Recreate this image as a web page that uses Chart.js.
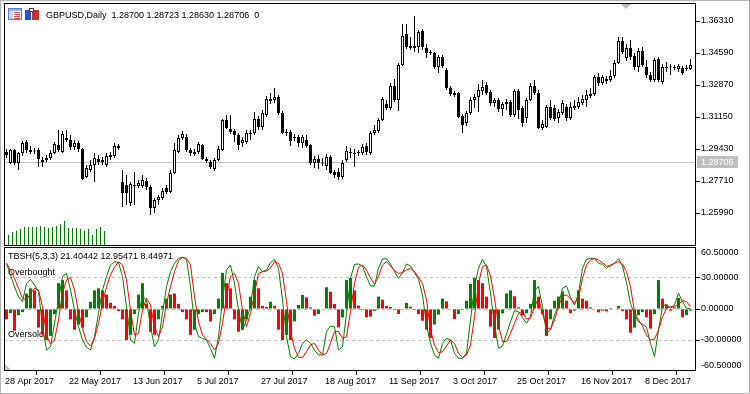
<!DOCTYPE html>
<html>
<head>
<meta charset="utf-8">
<script src="https://cdn.jsdelivr.net/npm/chart.js@4.4.1/dist/chart.umd.min.js"></script>
<style>
  html, body { margin: 0; padding: 0; background: #fff; }
  #wrap { position: relative; width: 750px; height: 394px; overflow: hidden; background: #fff; }
  #wrap canvas { position: absolute; left: 0; }
  #priceCanvas { top: 0; }
  #oscCanvas { top: 246px; }
  #edge { position: absolute; left: 0; top: 0; width: 750px; height: 394px; box-sizing: border-box;
          border: 1px solid #b4b4b4; pointer-events: none; }
</style>
</head>
<body>
<div id="wrap">
  <canvas id="priceCanvas" width="750" height="247"></canvas>
  <canvas id="oscCanvas" width="750" height="148"></canvas>
  <div id="edge"></div>
</div>
<script>
// GBPUSD daily bars, one entry per bar starting 28 Apr 2017
const opens = [
  1.2927, 1.2868, 1.2938, 1.2868, 1.2922, 1.2981, 1.2938, 1.2933, 1.2938, 1.2884,
  1.2884, 1.2895, 1.2922, 1.2965, 1.2927, 1.2991, 1.2991, 1.2954, 1.2975, 1.2943,
  1.2793, 1.2830, 1.2857, 1.2889, 1.2884, 1.2857, 1.2900, 1.2905, 1.2959, 1.2766,
  1.2750, 1.2653, 1.2750, 1.2744, 1.2744, 1.2771, 1.2739, 1.2626, 1.2669, 1.2680,
  1.2733, 1.2712, 1.2814, 1.2927, 1.3002, 1.3008, 1.2938, 1.2916, 1.2927, 1.2965,
  1.2889, 1.2873, 1.2836, 1.2884, 1.2938, 1.3099, 1.3051, 1.3040, 1.3018, 1.2975,
  1.2981, 1.3024, 1.3029, 1.3104, 1.3061, 1.3126, 1.3212, 1.3206, 1.3223, 1.3137,
  1.3029, 1.3034, 1.3002, 1.3008, 1.2975, 1.2991, 1.2965, 1.2868, 1.2889, 1.2871,
  1.2852, 1.2900, 1.2819, 1.2819, 1.2793, 1.2884, 1.2927, 1.2916, 1.2922, 1.2922,
  1.2959, 1.2922, 1.3029, 1.3040, 1.3099, 1.3185, 1.3163, 1.3282, 1.3206, 1.3395,
  1.3561, 1.3497, 1.3486, 1.3491, 1.3577, 1.3486, 1.3464, 1.3459, 1.3384, 1.3438,
  1.3368, 1.3271, 1.3233, 1.3244, 1.3120, 1.3083, 1.3137, 1.3206, 1.3223, 1.3255,
  1.3287, 1.3249, 1.3190, 1.3206, 1.3158, 1.3185, 1.3196, 1.3126, 1.3255, 1.3163,
  1.3110, 1.3206, 1.3282, 1.3244, 1.3056, 1.3061, 1.3169, 1.3163, 1.3110, 1.3137,
  1.3169, 1.3110, 1.3163, 1.3169, 1.3190, 1.3206, 1.3239, 1.3239, 1.3330, 1.3298,
  1.3319, 1.3314, 1.3335, 1.3405, 1.3524, 1.3432, 1.3486, 1.3443, 1.3384, 1.3470,
  1.3384, 1.3341, 1.3314, 1.3427, 1.3303, 1.3384, 1.3381, 1.3384, 1.3373, 1.3378,
  1.3373, 1.3373
];
const highs = [
  1.2943, 1.2943, 1.2943, 1.2927, 1.2986, 1.2991, 1.2959, 1.2948, 1.2948, 1.2900,
  1.2911, 1.2938, 1.2981, 1.3045, 1.3040, 1.3045, 1.3018, 1.2991, 1.2986, 1.2948,
  1.2857, 1.2884, 1.2922, 1.2911, 1.2900, 1.2922, 1.2927, 1.2975, 1.2970, 1.2830,
  1.2803, 1.2766, 1.2819, 1.2776, 1.2803, 1.2787, 1.2750, 1.2680, 1.2696, 1.2733,
  1.2750, 1.2830, 1.2975, 1.3018, 1.3040, 1.3024, 1.2948, 1.2943, 1.2981, 1.2970,
  1.2900, 1.2884, 1.2895, 1.2959, 1.3104, 1.3126, 1.3126, 1.3051, 1.3029, 1.3008,
  1.3045, 1.3045, 1.3142, 1.3120, 1.3153, 1.3228, 1.3244, 1.3271, 1.3233, 1.3147,
  1.3051, 1.3045, 1.3024, 1.3018, 1.3018, 1.3018, 1.2970, 1.2905, 1.2911, 1.2895,
  1.2916, 1.2911, 1.2830, 1.2841, 1.2884, 1.2959, 1.2948, 1.2943, 1.2938, 1.2970,
  1.2975, 1.3040, 1.3072, 1.3110, 1.3223, 1.3206, 1.3298, 1.3319, 1.3405, 1.3615,
  1.3615, 1.3545, 1.3658, 1.3583, 1.3588, 1.3507, 1.3475, 1.3464, 1.3448, 1.3448,
  1.3378, 1.3282, 1.3255, 1.3249, 1.3131, 1.3147, 1.3223, 1.3239, 1.3292, 1.3314,
  1.3303, 1.3260, 1.3217, 1.3217, 1.3196, 1.3212, 1.3206, 1.3266, 1.3266, 1.3174,
  1.3217, 1.3298, 1.3314, 1.3260, 1.3099, 1.3180, 1.3206, 1.3180, 1.3158, 1.3206,
  1.3185, 1.3196, 1.3206, 1.3223, 1.3233, 1.3260, 1.3271, 1.3341, 1.3351, 1.3341,
  1.3335, 1.3368, 1.3421, 1.3545, 1.3545, 1.3507, 1.3529, 1.3459, 1.3486, 1.3491,
  1.3421, 1.3357, 1.3432, 1.3438, 1.3400, 1.3411, 1.3400, 1.3395, 1.3400, 1.3389,
  1.3395, 1.3427
];
const lows = [
  1.2895, 1.2862, 1.2857, 1.2830, 1.2905, 1.2922, 1.2916, 1.2916, 1.2846, 1.2846,
  1.2873, 1.2884, 1.2916, 1.2927, 1.2922, 1.2981, 1.2938, 1.2938, 1.2927, 1.2776,
  1.2787, 1.2819, 1.2766, 1.2857, 1.2857, 1.2846, 1.2884, 1.2895, 1.2938, 1.2631,
  1.2642, 1.2637, 1.2642, 1.2733, 1.2733, 1.2723, 1.2588, 1.2599, 1.2642, 1.2669,
  1.2701, 1.2707, 1.2809, 1.2922, 1.2991, 1.2927, 1.2905, 1.2905, 1.2916, 1.2884,
  1.2868, 1.2836, 1.2825, 1.2879, 1.2932, 1.3051, 1.3024, 1.2981, 1.2938, 1.2954,
  1.2970, 1.2991, 1.3018, 1.3045, 1.3045, 1.3115, 1.3185, 1.3190, 1.3126, 1.3024,
  1.3013, 1.2959, 1.2986, 1.2954, 1.2948, 1.2948, 1.2857, 1.2841, 1.2836, 1.2852,
  1.2830, 1.2809, 1.2787, 1.2776, 1.2782, 1.2873, 1.2895, 1.2846, 1.2905, 1.2911,
  1.2911, 1.2911, 1.3018, 1.3029, 1.3094, 1.3153, 1.3153, 1.3196, 1.3147, 1.3389,
  1.3481, 1.3475, 1.3464, 1.3459, 1.3475, 1.3432, 1.3448, 1.3373, 1.3351, 1.3378,
  1.3260, 1.3228, 1.3223, 1.3110, 1.3029, 1.3067, 1.3126, 1.3163, 1.3142, 1.3233,
  1.3233, 1.3174, 1.3169, 1.3142, 1.3120, 1.3153, 1.3115, 1.3115, 1.3104, 1.3061,
  1.3083, 1.3201, 1.3233, 1.3051, 1.3045, 1.3056, 1.3099, 1.3094, 1.3083, 1.3126,
  1.3094, 1.3099, 1.3153, 1.3158, 1.3180, 1.3169, 1.3217, 1.3228, 1.3282, 1.3287,
  1.3292, 1.3303, 1.3325, 1.3400, 1.3454, 1.3416, 1.3421, 1.3368, 1.3357, 1.3384,
  1.3325, 1.3303, 1.3303, 1.3303, 1.3292, 1.3357, 1.3341, 1.3368, 1.3357, 1.3341,
  1.3362, 1.3368
];
const closes = [
  1.2911, 1.2938, 1.2868, 1.2922, 1.2975, 1.2938, 1.2927, 1.2930, 1.2889, 1.2873,
  1.2895, 1.2922, 1.2970, 1.2938, 1.3024, 1.3002, 1.2954, 1.2975, 1.2943, 1.2782,
  1.2841, 1.2857, 1.2895, 1.2873, 1.2873, 1.2905, 1.2911, 1.2959, 1.2948, 1.2707,
  1.2707, 1.2755, 1.2744, 1.2760, 1.2776, 1.2739, 1.2626, 1.2669, 1.2685, 1.2717,
  1.2712, 1.2814, 1.2938, 1.3002, 1.3024, 1.2938, 1.2922, 1.2927, 1.2970, 1.2889,
  1.2879, 1.2846, 1.2884, 1.2943, 1.3099, 1.3056, 1.3034, 1.3018, 1.2965, 1.2991,
  1.3029, 1.3029, 1.3104, 1.3061, 1.3137, 1.3212, 1.3201, 1.3223, 1.3137, 1.3029,
  1.3034, 1.2986, 1.3008, 1.2975, 1.3008, 1.2959, 1.2868, 1.2889, 1.2868, 1.2865,
  1.2900, 1.2814, 1.2803, 1.2793, 1.2868, 1.2932, 1.2922, 1.2922, 1.2927, 1.2954,
  1.2927, 1.3029, 1.3045, 1.3099, 1.3212, 1.3163, 1.3282, 1.3206, 1.3395, 1.3550,
  1.3491, 1.3486, 1.3497, 1.3572, 1.3491, 1.3459, 1.3459, 1.3384, 1.3438, 1.3389,
  1.3271, 1.3239, 1.3244, 1.3115, 1.3072, 1.3137, 1.3206, 1.3223, 1.3260, 1.3276,
  1.3244, 1.3190, 1.3206, 1.3158, 1.3185, 1.3196, 1.3126, 1.3255, 1.3153, 1.3083,
  1.3206, 1.3282, 1.3244, 1.3056, 1.3077, 1.3169, 1.3110, 1.3104, 1.3142, 1.3190,
  1.3110, 1.3169, 1.3174, 1.3196, 1.3212, 1.3233, 1.3228, 1.3330, 1.3298, 1.3330,
  1.3309, 1.3335, 1.3405, 1.3524, 1.3464, 1.3486, 1.3438, 1.3384, 1.3470, 1.3395,
  1.3341, 1.3314, 1.3421, 1.3314, 1.3384, 1.3378, 1.3387, 1.3378, 1.3389, 1.3351,
  1.3378, 1.3395
];

// short green columns at the bottom of the price window
const sideBars = [10, 13, 14, 16, 18, 18, 18, 18, 19, 18, 17, 18, 19, 21, 24, 17, 17, 17, 16, 14, 16, 10, 16, 18, 14];

// TBSH(5,3,3) buffers
const tbshMain = [
  44.2, 32.9, 21.6, 11.9, 7.1, 24.8, 28.7, 23.2, 16.8, -17,
  -39.7, -36.5, -13.9, 8.7, 31.3, 34.5, 18.4, -1, -17.1, -30,
  -37.1, -39.7, -26.8, -4.2, 18.4, 31.3, 42.6, 45.8, 44.8, 31.3,
  2.3, -30, -33.2, -4.2, 11.9, 8.7, -17.1, -36.5, -30, -4.2,
  21.6, 36.1, 44.2, 49, 50, 48, 21.6, -13.9, -26.8, -28.4,
  -30, -38.1, -47.7, -26.8, 8.7, 37.7, 42.6, 24.8, -1, -20.3,
  -10.6, 2.3, 31.3, 41, 36.1, 37.7, 44.8, 48.1, 39.4, 8.7,
  -26.8, -46.1, -48.4, -42.9, -33.2, -30, -33.2, -39.7, -44.5, -44.5,
  -21.9, -16.5, -17.1, -39.7, -36.5, -4.2, 29.7, 43.2, 43.6, 41.6,
  31.3, 22.3, 22.3, 39.4, 48.4, 48.7, 43.6, 36.1, 29.7, 35.2,
  43.6, 41.6, 35.2, 28.7, 13.5, -15.5, -33.2, -44.5, -47.7, -33.2,
  -28.4, -30, -42.9, -47.7, -47.7, -42.9, -10.6, 21.6, 39.4, 48.1,
  41, 15.2, -15.5, -38.1, -35.8, -24.2, -12.3, -1.6, -2.6, -8.1,
  -13.9, -7.4, 18.4, 21.6, 2.3, -23.5, -20.3, -5.8, 3.9, 20,
  22.3, 11.3, 3.9, 15.2, 39.4, 48.1, 49, 49, 44.2, 43.2,
  39.4, 42.6, 44.2, 48.7, 41.6, 25.5, 5.5, -5.8, -12.3, -14.8,
  -17.7, -33.2, -46, -20.3, 2.3, 4.8, 0.6, 3.9, 15.2, 7.1,
  0.6, 0.6
];
const tbshSignal = [
  44.2, 37.7, 29.7, 20, 10.3, 8.7, 15.2, 20, 18.4, 2.3,
  -25.2, -33.9, -30, -10.6, 15.2, 28.1, 30.6, 18.4, -2.6, -18.7,
  -31.6, -35.8, -28.4, -13.9, 5.5, 21.6, 32.9, 40.3, 45.8, 42.6,
  28.1, -1, -25.2, -23.5, -1, 10.3, 3.9, -17.1, -26.8, -17.1,
  5.5, 21.6, 36.1, 46.8, 50, 49, 42.6, 11.9, -12.3, -25.2,
  -29.4, -33.2, -39.7, -33.2, -13.9, 11.9, 31.3, 34.5, 24.8, -1,
  -17.1, -4.2, 15.2, 34.5, 36.1, 36.8, 39.4, 45.8, 44.2, 34.5,
  7.1, -21.9, -38.1, -46.8, -46.8, -41.3, -34.8, -33.2, -39.7, -44.5,
  -42.9, -33.2, -21.9, -21.9, -28.4, -26.8, -2.6, 24.8, 40.3, 42.6,
  37.7, 29.7, 24.2, 31.3, 42.6, 45.8, 41.6, 37.1, 34.5, 35.2,
  37.7, 39.4, 36.1, 30.6, 24.8, 8.7, -20.3, -34.8, -42.3, -41.3,
  -35.8, -30, -33.2, -42.9, -46.8, -44.5, -34.8, -7.4, 24.8, 41,
  42.6, 31.9, 10.3, -15.5, -31.6, -31.6, -23.5, -13.9, -4.2, -1.9,
  -9.7, -9, 2.3, 10.3, -4.2, -17.7, -19.7, -10.6, 2.3, 12.6,
  13.5, 10.3, 5.5, 10.3, 29.7, 42.6, 47.4, 49, 47.4, 44.8,
  41.6, 41.6, 44.2, 45.8, 43.6, 36.1, 21.6, -2.6, -10.6, -16.5,
  -25.2, -30, -29, -20.3, -7.4, 0.6, 2.3, 2.3, 4.5, 8.1,
  7.1, 2.3
];
const tbshHist = [
  -10, -4, -21, -6, -3, 15, 20, 18, -18, -25,
  -30, -26, -5, 25, 28, 18, -10, -20, -15, -18,
  -8, 7, 18, 20, 18, 14, 6, 3, -2, -10,
  -30, -25, -5, 14, 25, 5, -22, -25, -10, 3,
  10, 14, 15, 5, -3, -10, -25, -20, -5, -3,
  -3, -12, -5, 10, 35, 25, 20, -10, -22, -20,
  -10, 12, 28, 20, 3, 2, 7, 3, -20, -30,
  -25, -30, -12, 3.9, 13.6, 11.3, 1.6, -6.5, -4.8, 0,
  21, 16.7, 4.8, -17.8, -8.1, 28, 30, 18, 3.3, -1,
  -8, -7.4, -1.9, 12, 9, 2.9, 2, -1, -4.8, 0,
  5.9, 2.2, -0.9, -5, -11.3, -20, -28, -15, -5.4, 10,
  7.4, 0, -9.7, -4.8, -0.9, 8, 24.2, 30, 28, 25,
  12, -17, -28, -20, -4.2, 15, 18, 12.3, 1.6, -6.2,
  -4.2, 5, 28, 12, -5, -26, -10, 8, 12, 17,
  8, -4, -1.6, 18, 10, 8, 1.6, 0, -3.2, -1.6,
  -2.2, 1, 0, 2.9, -2, -10, -23, -18, -6, -3,
  -8, -19, -5, 28, 10, 4.2, -1.7, 1.6, 10.7, -8,
  -6, -1.7
];
// histogram colour per bar: g = rising, r = falling
const tbshHistDir = (
  'rgrggggrrr' + 'rggggrrrgr' + 'ggggrrrrrr' + 'rggggrrrgg' + 'ggrrrrrggg' +
  'rrgggrrrrg' + 'gggrrrgrrr' + 'grgggrrrgg' + 'grrrgggrrr' + 'rrggrrrrrg' +
  'grrrrrrggg' + 'rrrgggggrr' + 'rrrggggrrr' + 'gggrrrgggg' + 'rrggrrrrrg' +
  'rgrgrrrggg' + 'rrggrrrggr' + 'gg'
).split('');

const priceTicks = [1.25990, 1.27710, 1.29430, 1.31150, 1.32870, 1.34590, 1.36310];
const oscTicks = [30, 0, -30];
const oscLevels = [30, 0, -30];
const oscEdgeLabel = 60.5;
const dateTickBars = [0, 16, 32, 48, 64, 80, 96, 112, 128, 144, 160];
const dateTickLabels = ['28 Apr 2017', '22 May 2017', '13 Jun 2017', '5 Jul 2017', '27 Jul 2017',
  '18 Aug 2017', '11 Sep 2017', '3 Oct 2017', '25 Oct 2017', '16 Nov 2017', '8 Dec 2017'];
const lastPrice = 1.28706;
const headerText = 'GBPUSD,Daily  1.28700 1.28723 1.28630 1.28706  0';
const oscHeader = 'TBSH(5,3,3) 21.40442 12.95471 8.44971';

// view window (bar slots of 4 px)
const X_MIN = -0.625;
const X_MAX = 172.375;
const PRICE_MIN = 1.242703;
const PRICE_MAX = 1.37224;
const OSC_MAX = 59.03;

const FONT = { family: '"Liberation Sans", Arial, sans-serif', size: 9 };
const FONT_CSS = '9px "Liberation Sans", Arial, sans-serif';
const GREEN = '#008000';
const RED = '#ff0000';

Chart.defaults.font.family = FONT.family;
Chart.defaults.font.size = FONT.size;
Chart.defaults.color = '#000';

// keep chart.js from reserving room for half tick labels
function noLabelPadding(s) {
  s.paddingTop = 0;
  s.paddingBottom = 0;
  s.paddingLeft = 0;
  s.paddingRight = 0;
}

function drawFrame(ctx, a) {
  ctx.save();
  ctx.strokeStyle = '#000';
  ctx.lineWidth = 1;
  const l = Math.floor(a.left) + 0.5;
  const r = Math.floor(a.right) - 0.5;
  const t = Math.floor(a.top) - 0.5;
  const b = Math.floor(a.bottom) + 0.5;
  ctx.strokeRect(l, t, r - l, b - t);
  ctx.restore();
}

function drawIcons(ctx) {
  ctx.save();
  // window icon
  ctx.fillStyle = '#fff';
  ctx.fillRect(8, 8, 14, 12);
  ctx.fillStyle = '#c8d8f0';
  ctx.fillRect(9, 11, 4, 8);
  ctx.fillStyle = '#8fb0e0';
  ctx.fillRect(8, 8, 14, 3);
  ctx.strokeStyle = '#5a7db5';
  ctx.strokeRect(8.5, 8.5, 13, 11);
  ctx.fillStyle = '#e05050';
  for (let k = 0; k < 4; k++) ctx.fillRect(14, 12 + 2 * k, 6, 1);
  // template icon
  ctx.fillStyle = '#2850d0';
  ctx.fillRect(25, 10, 6, 10);
  ctx.fillStyle = '#c83030';
  ctx.fillRect(32, 10, 7, 10);
  ctx.fillStyle = '#fff';
  ctx.fillRect(29, 8, 5, 4);
  ctx.strokeStyle = '#404040';
  ctx.strokeRect(29.5, 8.5, 4, 3);
  ctx.restore();
}

const priceDecor = {
  id: 'priceDecor',
  beforeDatasetsDraw(chart) {
    const { ctx, chartArea: a, scales } = chart;
    const py = Math.floor(scales.y.getPixelForValue(lastPrice)) + 0.5;
    ctx.save();
    ctx.strokeStyle = '#c0c0c0';
    ctx.lineWidth = 1;
    ctx.beginPath();
    ctx.moveTo(a.left, py);
    ctx.lineTo(a.right, py);
    ctx.stroke();
    ctx.restore();
  },
  afterDraw(chart) {
    const { ctx, chartArea: a, scales } = chart;
    drawFrame(ctx, a);
    drawIcons(ctx);
    ctx.save();
    ctx.font = FONT_CSS;
    ctx.fillStyle = '#000';
    ctx.textBaseline = 'alphabetic';
    ctx.fillText(headerText, 46, 17.5);
    // last price tag on the axis
    const py = Math.floor(scales.y.getPixelForValue(lastPrice));
    ctx.fillStyle = '#c0c0c0';
    ctx.fillRect(a.right + 1, py - 6, 41, 12);
    ctx.fillStyle = '#fff';
    ctx.textBaseline = 'middle';
    ctx.fillText(lastPrice.toFixed(5), a.right + 5, py + 0.5);
    // chart shift marker
    ctx.fillStyle = '#b8b8b8';
    ctx.beginPath();
    ctx.moveTo(621, a.top);
    ctx.lineTo(631, a.top);
    ctx.lineTo(626, a.top + 5);
    ctx.closePath();
    ctx.fill();
    ctx.restore();
  }
};

const oscDecor = {
  id: 'oscDecor',
  beforeDatasetsDraw(chart) {
    const { ctx, chartArea: a, scales: { y } } = chart;
    ctx.save();
    ctx.strokeStyle = '#c0c0c0';
    ctx.lineWidth = 1;
    ctx.setLineDash([3, 3]);
    oscLevels.forEach(v => {
      const py = Math.floor(y.getPixelForValue(v)) + 0.5;
      ctx.beginPath();
      ctx.moveTo(a.left, py);
      ctx.lineTo(a.right, py);
      ctx.stroke();
    });
    ctx.setLineDash([]);
    ctx.font = FONT_CSS;
    ctx.fillStyle = '#000';
    ctx.fillText('Overbought', a.left + 4, y.getPixelForValue(oscLevels[0]) - 3);
    ctx.fillText('Oversold', a.left + 4, y.getPixelForValue(oscLevels[2]) - 3);
    ctx.restore();
  },
  afterDraw(chart) {
    const { ctx, chartArea: a } = chart;
    drawFrame(ctx, a);
    ctx.save();
    ctx.font = FONT_CSS;
    ctx.fillStyle = '#000';
    ctx.fillText(oscHeader, a.left + 4, a.top + 11);
    ctx.textBaseline = 'middle';
    ctx.fillText(oscEdgeLabel.toFixed(5), a.right + 5, a.top + 4.5);
    ctx.fillText((-oscEdgeLabel).toFixed(5), a.right + 5, a.bottom - 4.5);
    ctx.fillStyle = '#c0c0c0';
    ctx.beginPath();
    ctx.moveTo(a.left + 1, a.bottom - 6);
    ctx.lineTo(a.left + 1, a.bottom);
    ctx.lineTo(a.left + 7, a.bottom);
    ctx.closePath();
    ctx.fill();
    ctx.restore();
  }
};

const commonOpts = {
  responsive: false,
  animation: false,
  devicePixelRatio: 1,
  events: [],
  plugins: { legend: { display: false }, tooltip: { enabled: false } }
};

// price window
const bodyData = opens.map((o, i) => ({ x: i, y: [o, closes[i]] }));
const wickData = lows.map((l, i) => ({ x: i, y: [l, highs[i]] }));
const bodyFill = opens.map((o, i) => (closes[i] >= o ? '#fff' : '#000'));
const sideData = sideBars.map((v, k) => ({ x: k + 0.5, y: v }));

new Chart(document.getElementById('priceCanvas'), {
  type: 'bar',
  data: {
    datasets: [
      { data: bodyData, backgroundColor: bodyFill, borderColor: '#000', borderWidth: 1,
        borderSkipped: false, barThickness: 3, grouped: false, minBarLength: 1,
        inflateAmount: 0, order: 0 },
      { data: wickData, backgroundColor: '#000', borderWidth: 0, barThickness: 1,
        grouped: false, inflateAmount: 0, order: 1 },
      { data: sideData, yAxisID: 'ys', backgroundColor: GREEN, borderWidth: 0, barThickness: 1,
        grouped: false, inflateAmount: 0, order: 2 }
    ]
  },
  options: {
    ...commonOpts,
    layout: { padding: { left: 4, top: 4, right: 0, bottom: 2 } },
    scales: {
      x: { type: 'linear', min: X_MIN, max: X_MAX, offset: false, display: false },
      y: {
        position: 'right', min: PRICE_MIN, max: PRICE_MAX,
        afterBuildTicks: s => { s.ticks = priceTicks.map(v => ({ value: v })); },
        afterFit: s => { s.width = 54; noLabelPadding(s); },
        ticks: { font: FONT, color: '#000', padding: 1, callback: v => v.toFixed(5) },
        grid: { drawOnChartArea: false, drawTicks: true, tickLength: 4, tickColor: '#000' },
        border: { display: false }
      },
      ys: { display: false, min: 0, max: 241 }
    }
  },
  plugins: [priceDecor]
});

// oscillator window
new Chart(document.getElementById('oscCanvas'), {
  type: 'bar',
  data: {
    datasets: [
      { type: 'line', data: tbshSignal.map((v, i) => ({ x: i, y: v })), borderColor: RED,
        borderWidth: 1, pointRadius: 0, tension: 0, order: 0 },
      { type: 'line', data: tbshMain.map((v, i) => ({ x: i, y: v })), borderColor: GREEN,
        borderWidth: 1, pointRadius: 0, tension: 0, order: 1 },
      { data: tbshHist.map((v, i) => ({ x: i, y: v })),
        backgroundColor: tbshHistDir.map(d => (d === 'g' ? GREEN : RED)),
        borderWidth: 0, barThickness: 3, grouped: false, inflateAmount: 0, order: 2 }
    ]
  },
  options: {
    ...commonOpts,
    layout: { padding: { left: 4, top: 2, right: 0, bottom: 0 } },
    scales: {
      x: {
        type: 'linear', min: X_MIN, max: X_MAX, offset: false,
        afterBuildTicks: s => { s.ticks = dateTickBars.map(b => ({ value: b + X_MIN })); },
        afterFit: s => { s.height = 24; noLabelPadding(s); },
        ticks: { autoSkip: false, maxRotation: 0, minRotation: 0, align: 'start', labelOffset: 1,
                 padding: 1, font: FONT, color: '#000', callback: (v, idx) => dateTickLabels[idx] },
        grid: { drawOnChartArea: false, drawTicks: true, tickLength: 5, tickColor: '#000' },
        border: { display: false }
      },
      y: {
        position: 'right', min: -OSC_MAX, max: OSC_MAX,
        afterBuildTicks: s => { s.ticks = oscTicks.map(v => ({ value: v })); },
        afterFit: s => { s.width = 54; noLabelPadding(s); },
        ticks: { font: FONT, color: '#000', padding: 1, callback: v => v.toFixed(5) },
        grid: { drawOnChartArea: false, drawTicks: true, tickLength: 4, tickColor: '#000' },
        border: { display: false }
      }
    }
  },
  plugins: [oscDecor]
});
</script>
</body>
</html>
